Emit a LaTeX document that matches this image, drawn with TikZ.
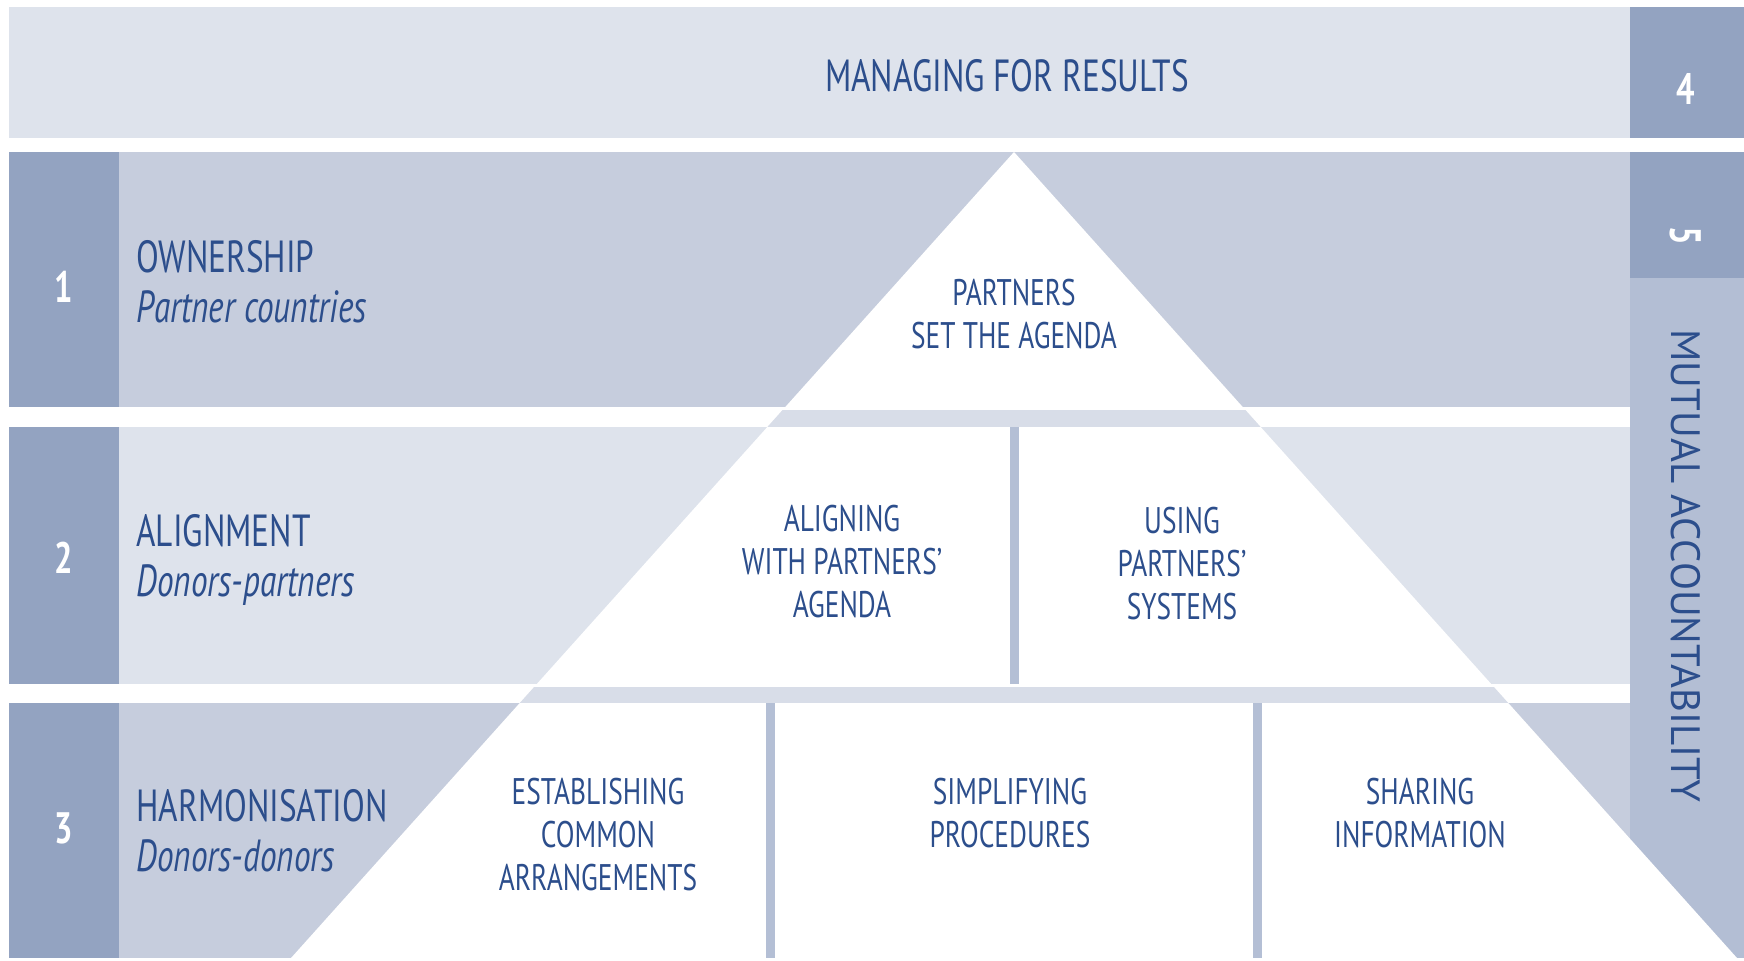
\documentclass[tikz,border=0pt]{standalone}
\usepackage{fontspec}
\setmainfont{PT Sans}[FakeStretch=0.74]
\newfontfamily\widesans{PT Sans}
\definecolor{inkblue}{HTML}{2C4E8C}
\definecolor{bandlight}{HTML}{DEE3EC}
\definecolor{bandmid}{HTML}{C6CDDD}
\definecolor{numdark}{HTML}{93A3C1}
\definecolor{colmid}{HTML}{B3BED4}
\definecolor{gapblue}{HTML}{D8DDE8}
\definecolor{divblue}{HTML}{B4BFD5}

\begin{document}
\begin{tikzpicture}[x=0.5pt,y=-0.5pt,
  head/.style={text=inkblue, font=\fontsize{22.5}{26}\selectfont, inner sep=0pt},
  rowlabel/.style={text=inkblue, font=\fontsize{22.5}{25}\selectfont, align=left, anchor=west, inner sep=0pt},
  cell/.style={text=inkblue, font=\fontsize{18.5}{21.5}\selectfont, align=center, inner sep=0pt},
  num/.style={text=white, font=\fontsize{22}{26}\selectfont\bfseries, inner sep=0pt}]
\useasboundingbox (0,0) rectangle (1744,960);
% bands
\fill[bandlight] (9,7) rectangle (1630,138);
\fill[bandmid] (9,152) rectangle (1630,407);
\fill[bandlight] (9,427) rectangle (1630,684);
\fill[bandmid] (9,703) rectangle (1630,958);
\fill[numdark] (9,152) rectangle (119,407);
\fill[numdark] (9,427) rectangle (119,684);
\fill[numdark] (9,703) rectangle (119,958);
\fill[numdark] (1630,7) rectangle (1744,138);
\fill[numdark] (1630,152) rectangle (1744,278);
\fill[colmid] (1630,278) rectangle (1744,958);
% pyramid
\fill[white] (1014,152) -- (291,958) -- (1737,958) -- cycle;
\begin{scope}
\clip (1014,152) -- (291,958) -- (1737,958) -- cycle;
\fill[gapblue] (0,410) rectangle (1744,427);
\fill[gapblue] (0,687) rectangle (1744,703);
\end{scope}
\draw[divblue, line width=4.5pt] (1014,427) -- (1014,684);
\draw[divblue, line width=4.5pt] (770,703) -- (770,958);
\draw[divblue, line width=4.5pt] (1257,703) -- (1257,958);

\node[head] (results) at (1007,76) {MANAGING FOR RESULTS};
\node[num] (n4) at (1686,89) {4};
\node[num, rotate=-90] (n5) at (1686,236) {5};
\node[head, rotate=-90, font=\widesans\fontsize{20.5}{24}\selectfont] (mutual) at (1686,566) {MUTUAL ACCOUNTABILITY};

\node[num] (n1) at (64,287) {1};
\node[num] (n2) at (64,558) {2};
\node[num] (n3) at (64,828) {3};

\node[rowlabel] (own) at (136,282) {OWNERSHIP\\\textit{Partner countries}};
\node[rowlabel] (align) at (136,560) {ALIGNMENT\\\textit{Donors-partners}};
\node[rowlabel] (harm) at (136,831) {HARMONISATION\\\textit{Donors-donors}};

\node[cell] (agenda) at (1014,314) {PARTNERS\\SET THE AGENDA};
\node[cell] (aligning) at (842,562) {ALIGNING\\WITH PARTNERS'\\AGENDA};
\node[cell] (using) at (1182,564) {USING\\PARTNERS'\\SYSTEMS};
\node[cell] (common) at (598,835) {ESTABLISHING\\COMMON\\ARRANGEMENTS};
\node[cell] (simple) at (1010,813) {SIMPLIFYING\\PROCEDURES};
\node[cell] (sharing) at (1420,813) {SHARING\\INFORMATION};
\end{tikzpicture}
\end{document}
